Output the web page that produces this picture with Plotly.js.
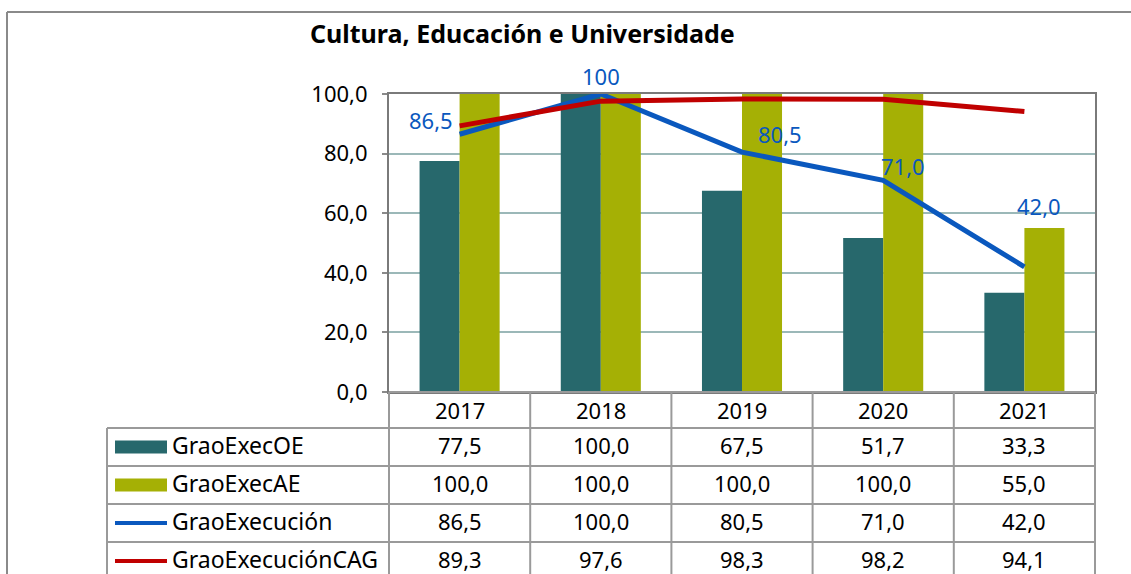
<!DOCTYPE html>
<html>
<head>
<meta charset="utf-8">
<script src="https://cdn.plot.ly/plotly-3.0.1.min.js"></script>
<style>html,body{margin:0;padding:0;background:#fff;}#chart{width:1131px;height:574px;}</style>
</head>
<body>
<div id="chart"></div>
<script>
// ---- data ----
var years = ["2017", "2018", "2019", "2020", "2021"];
var grao_exec_oe = [77.5, 100.0, 67.5, 51.7, 33.3];
var grao_exec_ae = [100.0, 100.0, 100.0, 100.0, 55.0];
var grao_execucion = [86.5, 100.0, 80.5, 71.0, 42.0];
var grao_execucion_cag = [89.3, 97.6, 98.3, 98.2, 94.1];
var series_names = ["GraoExecOE", "GraoExecAE", "GraoExecución", "GraoExecuciónCAG"];
var chart_title = "Cultura, Educación e Universidade";

// ---- styles ----
var W = 1131, H = 574;
var FONT = "Noto Sans, Open Sans, sans-serif";
var colOE = "#27686c", colAE = "#a5b005", colBlue = "#0a58be", colRed = "#c00000";
var gridCol = "#9bb8b8", frameCol = "#8a8a8a", tableCol = "#9a9a9a";
var plotL = 389, plotR = 1095, plotT = 94, plotB = 392;
var rowEdges = [392, 428, 466, 504, 542, 580];
var colEdges = [389, 530.2, 671.4, 812.6, 953.8, 1095];
var legendLeft = 107;
var labelShift = [[-29, 14], [0, 18], [38, 18], [20, 14], [15, 61]];
var textLift = 2;

function px(x) { return x / W; }
function py(y) { return 1 - y / H; }
function fmt(v) { return v.toFixed(1).replace('.', ','); }
function lbl(v) { return v === 100 ? "100" : fmt(v); }

var traces = [
  { type: "bar", x: years, y: grao_exec_oe, name: series_names[0], marker: { color: colOE }, hoverinfo: "skip" },
  { type: "bar", x: years, y: grao_exec_ae, name: series_names[1], marker: { color: colAE }, hoverinfo: "skip" },
  { type: "scatter", mode: "lines", x: years, y: grao_execucion, name: series_names[2], line: { color: colBlue, width: 5 }, cliponaxis: false, hoverinfo: "skip" },
  { type: "scatter", mode: "lines", x: years, y: grao_execucion_cag, name: series_names[3], line: { color: colRed, width: 5 }, cliponaxis: false, hoverinfo: "skip" }
];

var shapes = [];
var annotations = [];

// outer frame
shapes.push({ type: "line", xref: "paper", yref: "paper", x0: px(7), x1: px(1140), y0: py(12), y1: py(12), line: { color: frameCol, width: 2 } });
shapes.push({ type: "line", xref: "paper", yref: "paper", x0: px(7), x1: px(7), y0: py(12), y1: py(590), line: { color: frameCol, width: 2 } });

// table horizontal lines
for (var r = 0; r < rowEdges.length; r++) {
  var xs = r === 0 ? plotL : legendLeft;
  shapes.push({ type: "line", xref: "paper", yref: "paper", x0: px(xs), x1: px(plotR), y0: py(rowEdges[r]), y1: py(rowEdges[r]), line: { color: tableCol, width: 2 } });
}
// table vertical lines
for (var c = 0; c < colEdges.length; c++) {
  shapes.push({ type: "line", xref: "paper", yref: "paper", x0: px(colEdges[c]), x1: px(colEdges[c]), y0: py(rowEdges[0]), y1: py(590), line: { color: tableCol, width: 2 } });
}
shapes.push({ type: "line", xref: "paper", yref: "paper", x0: px(legendLeft), x1: px(legendLeft), y0: py(rowEdges[1]), y1: py(590), line: { color: tableCol, width: 2 } });

// header row: years
for (var i = 0; i < years.length; i++) {
  annotations.push({ xref: "paper", yref: "paper", x: px((colEdges[i] + colEdges[i + 1]) / 2), y: py((rowEdges[0] + rowEdges[1]) / 2),
    text: years[i], showarrow: false, borderpad: 0, xanchor: "center", yanchor: "middle", font: { family: FONT, size: 22, color: "#000" } });
}
// value rows
var rows = [grao_exec_oe, grao_exec_ae, grao_execucion, grao_execucion_cag];
for (var r2 = 0; r2 < rows.length; r2++) {
  var yc = (rowEdges[r2 + 1] + rowEdges[r2 + 2]) / 2;
  for (var j = 0; j < years.length; j++) {
    annotations.push({ xref: "paper", yref: "paper", x: px((colEdges[j] + colEdges[j + 1]) / 2), y: py(yc - textLift),
      text: fmt(rows[r2][j]), showarrow: false, borderpad: 0, xanchor: "center", yanchor: "middle", font: { family: FONT, size: 22, color: "#000" } });
  }
  // legend key
  if (r2 < 2) {
    shapes.push({ type: "rect", xref: "paper", yref: "paper", x0: px(115), x1: px(167), y0: py(yc - 6.5), y1: py(yc + 6.5),
      fillcolor: r2 === 0 ? colOE : colAE, line: { width: 0 } });
  } else {
    shapes.push({ type: "line", xref: "paper", yref: "paper", x0: px(115), x1: px(167), y0: py(yc), y1: py(yc),
      line: { color: r2 === 2 ? colBlue : colRed, width: 4 } });
  }
  annotations.push({ xref: "paper", yref: "paper", x: px(171), y: py(yc - textLift), text: series_names[r2], showarrow: false, borderpad: 0,
    xanchor: "left", yanchor: "middle", font: { family: FONT, size: 23, color: "#000" } });
}

// data labels on blue line (x given as category index)
for (var k = 0; k < years.length; k++) {
  annotations.push({ xref: "x", yref: "y", x: k, y: grao_execucion[k], text: lbl(grao_execucion[k]), showarrow: false,
    xanchor: "center", yanchor: "middle", xshift: labelShift[k][0], yshift: labelShift[k][1],
    font: { family: FONT, size: 22, color: colBlue } });
}

// title
annotations.push({ xref: "paper", yref: "paper", x: px(522), y: py(33), text: "<b>" + chart_title + "</b>", showarrow: false,
  xanchor: "center", yanchor: "middle", font: { family: FONT, size: 25, color: "#000" } });

var layout = {
  width: W, height: H,
  margin: { l: 0, r: 0, t: 0, b: 0, pad: 0 },
  paper_bgcolor: "#fff", plot_bgcolor: "#fff",
  separators: ", ",
  showlegend: false,
  barmode: "group", bargap: 0.433, bargroupgap: 0,
  font: { family: FONT, size: 22, color: "#000" },
  xaxis: { domain: [plotL / W, plotR / W], type: "category", range: [-0.5, 4.5], autorange: false,
    showticklabels: false, ticks: "", showgrid: false,
    showline: true, mirror: true, linecolor: "#7a7a7a", linewidth: 2, zeroline: false, fixedrange: true },
  yaxis: { domain: [1 - plotB / H, 1 - plotT / H], range: [0, 100], autorange: false, dtick: 20, tick0: 0, tickformat: ".1f",
    showgrid: true, gridcolor: gridCol, gridwidth: 2, ticks: "outside", ticklen: 5, tickcolor: "#8a8a8a", tickwidth: 2,
    ticklabelstandoff: 10, showline: true, mirror: true, linecolor: "#7a7a7a", linewidth: 2, zeroline: false,
    tickfont: { family: FONT, size: 22, color: "#000" }, automargin: false, fixedrange: true },
  shapes: shapes,
  annotations: annotations
};

Plotly.newPlot("chart", traces, layout, { staticPlot: true, displayModeBar: false });
</script>
</body>
</html>
